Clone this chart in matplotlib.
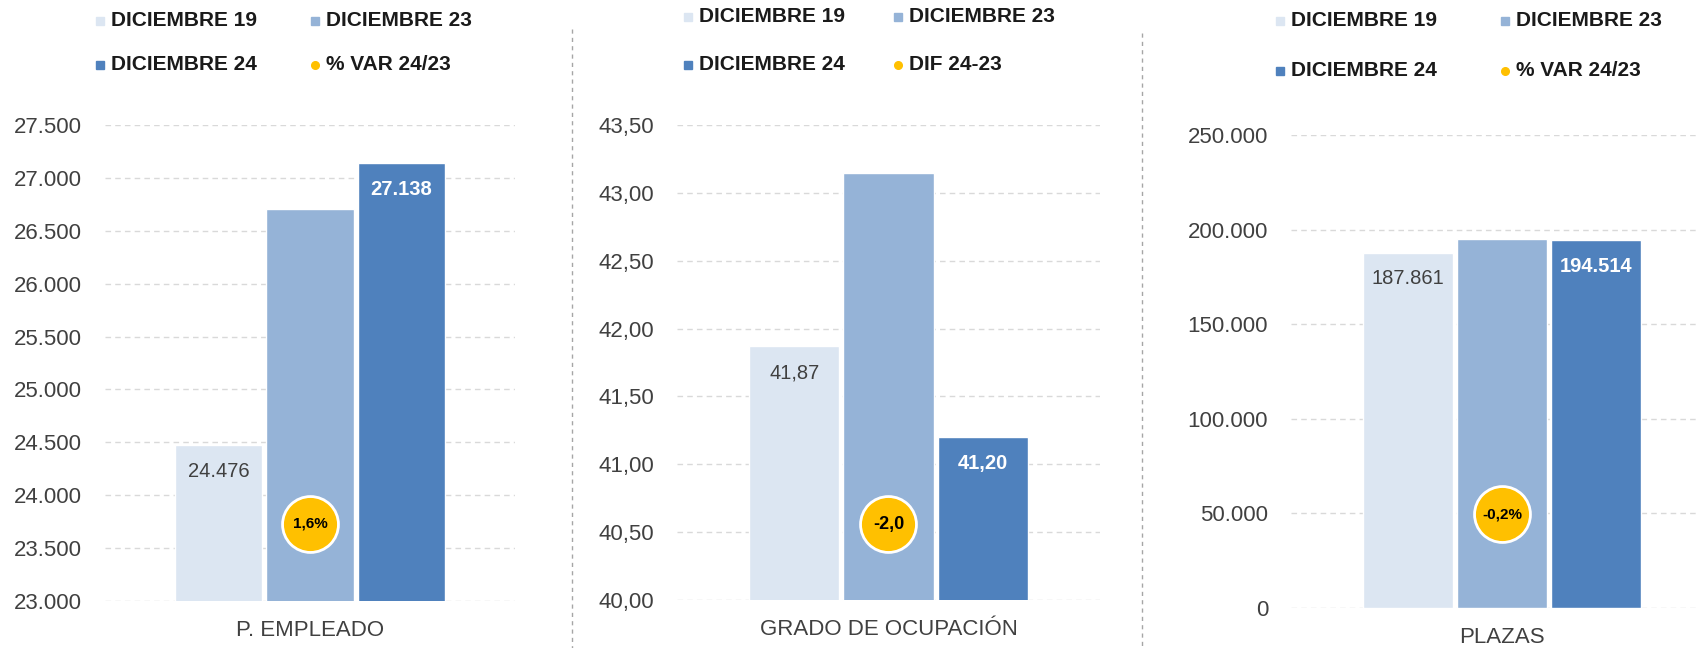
"""Tres paneles de barras: P. empleado, grado de ocupacion y plazas (dic 19/23/24)."""
import matplotlib
matplotlib.use('Agg')
import matplotlib.pyplot as plt
from matplotlib.lines import Line2D
from matplotlib import transforms
import numpy as np

plt.rcParams.update({
    'font.family': ['Liberation Sans', 'DejaVu Sans'],
    'font.size': 15,
})

# Colores tipo Excel
C19 = '#DCE6F2'
C23 = '#95B3D7'
C24 = '#4F81BD'
YELLOW = '#FFC000'
GRID = '#D9D9D9'
TXT = '#404040'

# --- datos ---
series = ['DICIEMBRE 19', 'DICIEMBRE 23', 'DICIEMBRE 24']
categories = ['P. EMPLEADO', 'GRADO DE OCUPACIÓN', 'PLAZAS']
dic19 = [24476, 41.87, 187861]
dic23 = [26710, 43.15, 194900]
dic24 = [27138, 41.20, 194514]
change_names = ['% VAR 24/23', 'DIF 24-23', '% VAR 24/23']
change_values = [1.6, -2.0, -0.2]
change_is_pct = [True, False, True]
y_ticks = [np.arange(23000, 27501, 500), np.arange(40, 43.51, 0.5), np.arange(0, 250001, 50000)]
decimals = [0, 2, 0]

W, H = 1699, 648
fig = plt.figure(figsize=(W / 100, H / 100), dpi=100)

# posiciones en pixeles (izq, der, arriba, abajo)
boxes = [(105, 515, 125, 601), (677, 1100, 125, 600), (1291, 1713, 135, 608)]
legend_pos = [(100, 315, 21, 65), (688, 898, 17, 65), (1280, 1505, 21, 71)]
circle_frac = [0.162, 0.16, 0.198]
separators = [(572, 29), (1142, 33)]


def fmt(v, d):
    if d == 0:
        return f"{v:,.0f}".replace(',', '.')
    return f"{v:.{d}f}".replace('.', ',')


width = 0.32
pitch = 0.334
colors = [C19, C23, C24]

for i in range(3):
    l, r, t, b = boxes[i]
    ax = fig.add_axes([l / W, 1 - b / H, (r - l) / W, (b - t) / H])
    vals = [dic19[i], dic23[i], dic24[i]]
    xs = [-pitch, 0, pitch]
    ax.bar(xs, vals, width=width, color=colors, edgecolor='white', linewidth=1, zorder=2)
    ax.set_xlim(-0.75, 0.75)
    ax.set_ylim(y_ticks[i][0], y_ticks[i][-1])
    ax.set_yticks(y_ticks[i])
    ax.set_yticklabels([fmt(v, decimals[i]) for v in y_ticks[i]], color=TXT, fontsize=16)
    ax.tick_params(axis='y', length=0, pad=16.5)
    ax.set_xticks([])
    ax.grid(axis='y', color=GRID, linestyle=(0, (4, 3)), linewidth=1)
    ax.set_axisbelow(True)
    for s in ax.spines.values():
        s.set_visible(False)
    ax.patch.set_visible(False)

    # etiquetas de valor (dic19 y dic24)
    ax.annotate(fmt(dic19[i], decimals[i]), xy=(xs[0], dic19[i]), xytext=(0, -19),
                textcoords='offset points', ha='center', va='center', fontsize=14.5, color=TXT)
    ax.annotate(fmt(dic24[i], decimals[i]), xy=(xs[2], dic24[i]), xytext=(0, -19),
                textcoords='offset points', ha='center', va='center', fontsize=14.5,
                color='white', fontweight='bold')

    # circulo con la variacion
    trans = transforms.blended_transform_factory(ax.transData, ax.transAxes)
    ax.scatter([0], [circle_frac[i]], s=1620, color=YELLOW, edgecolors='white',
               linewidths=2, transform=trans, zorder=4, clip_on=False)
    lab = f"{change_values[i]:.1f}".replace('.', ',') + ('%' if change_is_pct[i] else '')
    ax.text(0, circle_frac[i], lab, transform=trans, ha='center', va='center',
            fontsize=11 if change_is_pct[i] else 13, fontweight='bold', color='black', zorder=5)

    # categoria
    ax.annotate(categories[i], xy=(0.5, 0), xycoords='axes fraction', xytext=(0, -21),
                textcoords='offset points', ha='center', va='center', fontsize=16, color=TXT)

    # leyenda manual
    x1, x2, y1, y2 = legend_pos[i]
    items = [(x1, y1, series[0], 's', C19), (x2, y1, series[1], 's', C23),
             (x1, y2, series[2], 's', C24), (x2, y2, change_names[i], 'o', YELLOW)]
    for mx, my, name, mk, col in items:
        fig.add_artist(Line2D([mx / W], [1 - my / H], marker=mk, markersize=5.5,
                              color=col, linestyle='none', transform=fig.transFigure))
        fig.text((mx + 11) / W, 1 - my / H, name, ha='left', va='center',
                 fontsize=15, fontweight='bold', color='#1A1A1A')

# separadores verticales
for sx, sy in separators:
    fig.add_artist(Line2D([sx / W, sx / W], [1 - sy / H, 0], color='#A6A6A6', linewidth=1,
                          linestyle=(0, (3, 3)), transform=fig.transFigure))

fig.savefig('out.png', dpi=100)
plt.close()
